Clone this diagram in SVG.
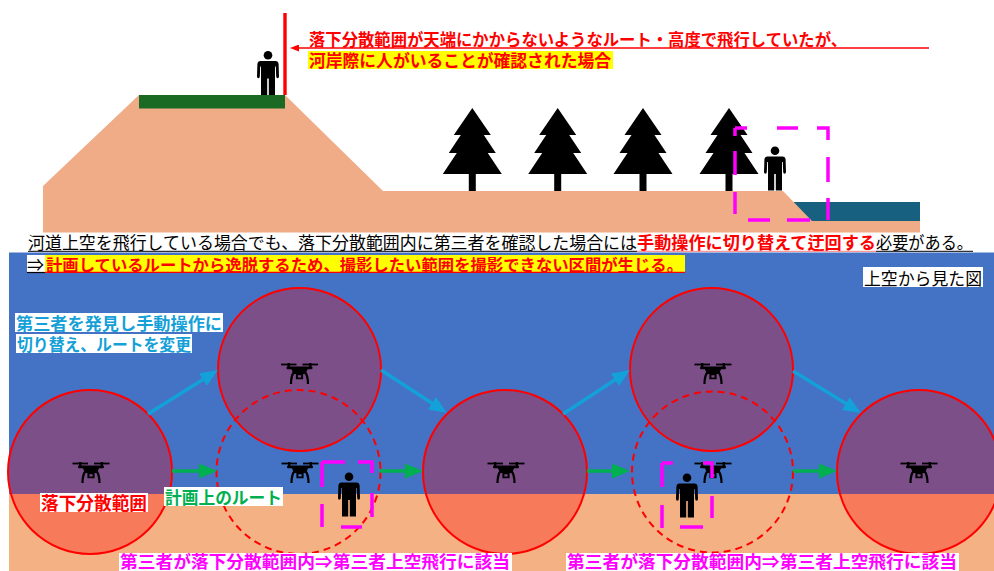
<svg xmlns="http://www.w3.org/2000/svg" xmlns:xlink="http://www.w3.org/1999/xlink" width="994" height="571" viewBox="0 0 994 571">
  <style>
    text { font-family: "Noto Sans CJK JP", "Noto Sans CJK SC", sans-serif; }
    .b { font-weight: bold; }
    .red { fill: #FF0000; }
    .zone { fill: #FF0000; fill-opacity: 0.3; stroke: #FF0000; stroke-width: 2; }
    .zone-dash { fill: none; stroke: #FF0000; stroke-width: 2; stroke-dasharray: 7 5; }
    .route { stroke: #00B050; stroke-width: 3.5; fill: none; }
    .detour { stroke: #14A0D8; stroke-width: 3.5; fill: none; }
    .bracket { stroke: #FF00FF; stroke-width: 3.5; fill: none; }
    .tree { fill: #000000; }
    .person { fill: #000000; }
  </style>
  <defs>
    <marker id="head-green" viewBox="0 0 18 15" markerWidth="18" markerHeight="15" refX="2" refY="7.5" orient="auto" markerUnits="userSpaceOnUse">
      <path d="M0,0 L18,7.5 L0,15 Z" fill="#00B050"/>
    </marker>
    <marker id="head-blue" viewBox="0 0 18 15" markerWidth="18" markerHeight="15" refX="2" refY="7.5" orient="auto" markerUnits="userSpaceOnUse">
      <path d="M0,0 L18,7.5 L0,15 Z" fill="#14A0D8"/>
    </marker>
    <marker id="head-red" viewBox="0 0 9 7" markerWidth="9" markerHeight="7" refX="1" refY="3.5" orient="auto" markerUnits="userSpaceOnUse">
      <path d="M0,0 L9,3.5 L0,7 Z" fill="#FF0000"/>
    </marker>
    <!-- quadcopter icon, origin at top centre, 36 x 21 -->
    <g id="drone">
      <rect x="-18.5" y="0.6" width="15.5" height="1.8" fill="#000"/>
      <rect x="3" y="0.6" width="15.5" height="1.8" fill="#000"/>
      <rect x="-12" y="0" width="2.4" height="5" fill="#000"/>
      <rect x="9.6" y="0" width="2.4" height="5" fill="#000"/>
      <rect x="-13" y="3.6" width="26" height="2.6" rx="1.2" fill="#000"/>
      <path d="M-8.5,5 L8.5,5 L6,11 L-6,11 Z" fill="#000"/>
      <path d="M-3.6,10 H3.6 V16.2 H-3.6 Z M-1.6,12.2 V14.4 H1.6 V12.2 Z" fill="#000" fill-rule="evenodd"/>
      <path d="M-5.5,9 Q-8.5,13 -8.5,21 M5.5,9 Q8.5,13 8.5,21" stroke="#000" stroke-width="2.2" fill="none"/>
    </g>
    <!-- standing figure, origin at top of head centre -->
    <g id="figure">
      <circle cx="0" cy="4.3" r="4.3"/>
      <path d="M-7.5,10 Q-10.3,10 -10.6,13 L-11,25.5 Q-11,27.3 -9.6,27.3 Q-8.2,27.3 -8.2,25.5 L-7.8,15.5 L-7,15.5 L-7,44 L-0.8,44 L-0.8,27.5 L0.8,27.5 L0.8,44 L7,44 L7,15.5 L7.8,15.5 L8.2,25.5 Q8.2,27.3 9.6,27.3 Q11,27.3 11,25.5 L10.6,13 Q10.3,10 7.5,10 Z"/>
    </g>
    <!-- conifer, origin at apex -->
    <path id="conifer" d="M0,0 L18.5,27 L11.5,27 L23.5,45 L15.5,45 L29.5,66 L3.5,66 L3.5,83 L-3.5,83 L-3.5,66 L-29.5,66 L-15.5,45 L-23.5,45 L-11.5,27 L-18.5,27 Z"/>
  </defs>

  <rect width="994" height="571" fill="#FFFFFF"/>

  <!-- cross-section of the river bank -->
  <g id="section">
    <rect x="794" y="202" width="126" height="19" fill="#17607F"/>
    <path d="M43,186 L139,95 L285,95 L383,191 L783,191 L812,221 L920,221 L920,232.5 L43,232.5 Z" fill="#F0AB87"/>
    <rect x="139" y="95" width="146" height="13.5" fill="#1B6A24"/>
    <line x1="285" y1="13" x2="285" y2="95" stroke="#FF0000" stroke-width="3.4"/>
  </g>

  <g id="trees" class="tree">
    <use xlink:href="#conifer" x="472.3" y="108"/>
    <use xlink:href="#conifer" x="557.7" y="108"/>
    <use xlink:href="#conifer" x="643" y="108"/>
    <use xlink:href="#conifer" x="729" y="108"/>
  </g>

  <g id="person-crest" class="person">
    <use xlink:href="#figure" x="268" y="51"/>
  </g>
  <g id="person-riverside" class="person">
    <use xlink:href="#figure" x="775" y="146.5"/>
  </g>
  <path id="riverside-bracket" class="bracket" d="M735,128 H747 M777,128 H798 M817,128 H828 V140 M828,157 V182 M828,198 V220 M810,220 H787 M770,220 H748 M735,214 V192 M735,175 V151 M735,136 V128"/>

  <g id="callout">
    <line x1="929" y1="48" x2="298" y2="48" stroke="#FF0000" stroke-width="1.6" marker-end="url(#head-red)"/>
    <text x="309" y="45.5" font-size="16.5" class="b red" textLength="538" lengthAdjust="spacingAndGlyphs">落下分散範囲が天端にかからないようなルート・高度で飛行していたが、</text>
    <rect x="308" y="51" width="305" height="18" fill="#FFFF00"/>
    <text x="309" y="67" font-size="17" class="b red" textLength="302" lengthAdjust="spacingAndGlyphs">河岸際に人がいることが確認された場合</text>
  </g>

  <g id="summary">
    <text x="28" y="249" font-size="17" fill="#000" textLength="609" lengthAdjust="spacingAndGlyphs">河道上空を飛行している場合でも、落下分散範囲内に第三者を確認した場合には</text>
    <text x="637" y="249" font-size="17" class="b red" textLength="239" lengthAdjust="spacingAndGlyphs">手動操作に切り替えて迂回する</text>
    <text x="876" y="249" font-size="17" fill="#000" textLength="97" lengthAdjust="spacingAndGlyphs">必要がある。</text>
    <line x1="28" y1="251.3" x2="637" y2="251.3" stroke="#000" stroke-width="1"/>
    <line x1="637" y1="251.3" x2="876" y2="251.3" stroke="#FF8080" stroke-width="1"/>
    <line x1="876" y1="251.3" x2="973" y2="251.3" stroke="#000" stroke-width="1"/>
  </g>

  <!-- plan view -->
  <g id="plan">
    <rect x="9" y="252.5" width="985" height="319" fill="#4472C4"/>
    <rect x="9" y="494" width="985" height="77" fill="#F4B183"/>
  </g>

  <g id="summary-2">
    <rect x="27" y="255" width="18" height="18" fill="#FFFFFF"/>
    <text x="27" y="270.5" font-size="17" fill="#000">⇒</text>
    <line x1="27" y1="272.5" x2="45" y2="272.5" stroke="#000" stroke-width="1.2"/>
    <rect x="45" y="255" width="640" height="18" fill="#FFFF00"/>
    <text x="46" y="270.5" font-size="16.4" class="b red" textLength="637" lengthAdjust="spacingAndGlyphs">計画しているルートから逸脱するため、撮影したい範囲を撮影できない区間が生じる。</text>
    <line x1="45" y1="272.3" x2="685" y2="272.3" stroke="#FF0000" stroke-width="1.2"/>
  </g>

  <g id="view-label">
    <rect x="863" y="267" width="120" height="20" fill="#FFFFFF"/>
    <text x="864" y="284.5" font-size="17" fill="#000" textLength="118" lengthAdjust="spacingAndGlyphs">上空から見た図</text>
  </g>

  <!-- fall dispersion zones along the flight -->
  <g id="zone-1">
    <circle class="zone" cx="90" cy="472" r="82"/>
    <use xlink:href="#drone" x="91" y="462"/>
  </g>
  <g id="zone-2-planned">
    <circle class="zone-dash" cx="298.5" cy="472" r="82"/>
    <use xlink:href="#drone" x="300" y="462"/>
  </g>
  <g id="zone-2-detour">
    <circle class="zone" cx="299.5" cy="369.5" r="81.5"/>
    <use xlink:href="#drone" x="299.5" y="363"/>
  </g>
  <g id="zone-3">
    <circle class="zone" cx="505" cy="472" r="82"/>
    <use xlink:href="#drone" x="506" y="462"/>
  </g>
  <g id="zone-4-planned">
    <circle class="zone-dash" cx="712.5" cy="472" r="80.5"/>
    <use xlink:href="#drone" x="713" y="462"/>
  </g>
  <g id="zone-4-detour">
    <circle class="zone" cx="711.5" cy="369.5" r="81.5"/>
    <use xlink:href="#drone" x="713" y="363"/>
  </g>
  <g id="zone-5">
    <circle class="zone" cx="919" cy="472" r="82"/>
    <use xlink:href="#drone" x="919" y="462"/>
  </g>

  <g id="connectors">
    <line class="route" x1="172" y1="471" x2="201" y2="471" marker-end="url(#head-green)"/>
    <line class="route" x1="380" y1="471" x2="407" y2="471" marker-end="url(#head-green)"/>
    <line class="route" x1="587" y1="471" x2="614" y2="471" marker-end="url(#head-green)"/>
    <line class="route" x1="793" y1="471" x2="821" y2="471" marker-end="url(#head-green)"/>
    <line class="detour" x1="148" y1="414" x2="204.5" y2="378.5" marker-end="url(#head-blue)"/>
    <line class="detour" x1="381" y1="370" x2="433.6" y2="404.3" marker-end="url(#head-blue)"/>
    <line class="detour" x1="563" y1="414" x2="616.6" y2="378.8" marker-end="url(#head-blue)"/>
    <line class="detour" x1="793" y1="371" x2="847.4" y2="404.6" marker-end="url(#head-blue)"/>
  </g>

  <g id="third-party-1">
    <use class="person" xlink:href="#figure" x="349" y="472.5"/>
    <path class="bracket" d="M322,462 H345 M358,462 H372 V473 M372,493 V517 M362,527 H341 M322,527 V504 M322,487 V462"/>
  </g>
  <g id="third-party-2">
    <use class="person" xlink:href="#figure" x="687" y="473.5"/>
    <path class="bracket" d="M662,463 H673 M703,463 H712 V478 M712,496 V518 M703,527 H680 M662,528 V505 M662,487 V463"/>
  </g>

  <g id="labels">
    <rect x="15" y="313" width="208" height="19" fill="#FFFFFF"/>
    <text x="16" y="329.5" font-size="16.5" class="b" fill="#15A0D8" textLength="206" lengthAdjust="spacingAndGlyphs">第三者を発見し手動操作に</text>
    <rect x="16" y="334" width="176" height="19" fill="#FFFFFF"/>
    <text x="17" y="350.5" font-size="16.5" class="b" fill="#15A0D8" textLength="174" lengthAdjust="spacingAndGlyphs">切り替え、ルートを変更</text>
    <rect x="40" y="493" width="108" height="19" fill="#FFFFFF"/>
    <text x="41" y="510" font-size="18" class="b red" textLength="106" lengthAdjust="spacingAndGlyphs">落下分散範囲</text>
    <rect x="164" y="487" width="119" height="19" fill="#FFFFFF"/>
    <text x="165" y="504" font-size="17" class="b" fill="#00B050" textLength="117" lengthAdjust="spacingAndGlyphs">計画上のルート</text>
    <rect x="119" y="553" width="393" height="18" fill="#FFFFFF"/>
    <text x="120" y="568" font-size="17" class="b" fill="#FF00FF" textLength="390" lengthAdjust="spacingAndGlyphs">第三者が落下分散範囲内⇒第三者上空飛行に該当</text>
    <rect x="566" y="553" width="393" height="18" fill="#FFFFFF"/>
    <text x="567" y="568" font-size="17" class="b" fill="#FF00FF" textLength="390" lengthAdjust="spacingAndGlyphs">第三者が落下分散範囲内⇒第三者上空飛行に該当</text>
  </g>
</svg>
